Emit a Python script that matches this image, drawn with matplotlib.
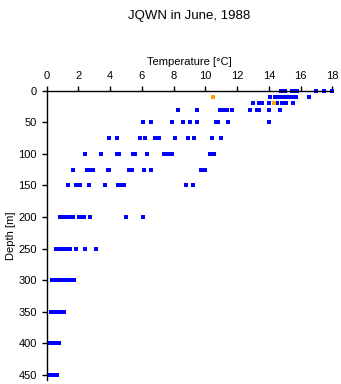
import matplotlib
matplotlib.use('Agg')
import matplotlib.pyplot as plt

plt.rcParams['font.family'] = ['Liberation Sans', 'DejaVu Sans']

# temperature readings [C] per sampling depth [m]
profiles = {
    0: [14.75, 14.9, 15.05, 15.45, 15.6, 15.75, 17.0, 17.5, 18.0],
    10: [14.1, 14.4, 14.6, 14.7, 14.9, 15.1, 15.3, 15.5, 15.7, 16.5],
    20: [13.0, 13.4, 13.6, 14.0, 14.5, 14.8, 15.1, 15.5],
    30: [8.3, 9.5, 10.9, 11.2, 11.35, 11.7, 12.8, 13.25, 13.4, 14.0, 14.7],
    50: [6.1, 6.55, 7.9, 8.6, 9.05, 9.5, 10.65, 10.8, 11.45, 14.0],
    75: [3.95, 4.45, 5.85, 6.2, 6.85, 7.1, 8.1, 8.9, 9.3, 10.4, 11.0],
    100: [2.4, 3.45, 4.45, 4.55, 5.45, 5.55, 6.35, 7.4, 7.55, 7.7, 7.9, 10.3, 10.55],
    125: [1.65, 2.55, 2.7, 2.9, 3.85, 3.95, 5.2, 5.3, 5.4, 6.15, 6.55, 9.75, 9.95],
    150: [1.35, 1.85, 2.0, 2.1, 2.65, 3.65, 4.5, 4.6, 4.75, 4.9, 8.8, 9.2],
    200: [0.85, 1.1, 1.2, 1.3, 1.45, 1.65, 2.05, 2.2, 2.35, 2.75, 5.0, 6.05],
    250: [0.6, 0.68, 0.77, 0.85, 0.95, 1.05, 1.15, 1.25, 1.35, 1.45, 1.85, 2.4, 3.1],
    300: [0.35, 0.45, 0.55, 0.65, 0.75, 0.85, 0.95, 1.05, 1.15, 1.25, 1.4, 1.55, 1.7],
    350: [0.27, 0.37, 0.47, 0.57, 0.67, 0.77, 0.87, 0.97, 1.1],
    400: [0.17, 0.27, 0.37, 0.47, 0.57, 0.67, 0.75],
    450: [0.17, 0.27, 0.37, 0.47, 0.57, 0.63],
}
# highlighted station
hl_temp = [10.5, 14.3]
hl_depth = [10, 20]

x_ticks = [0, 2, 4, 6, 8, 10, 12, 14, 16, 18]
y_ticks = [0, 50, 100, 150, 200, 250, 300, 350, 400, 450]

fig = plt.figure(figsize=(3.41, 3.84), dpi=100)
ax = fig.add_axes([0.137, 0.010, 0.8375, 0.754])

for d, temps in profiles.items():
    ax.plot(temps, [d] * len(temps), linestyle='none', marker='s', markersize=2.5,
            color='#0000ff', markeredgewidth=0, clip_on=False)
ax.plot(hl_temp, hl_depth, linestyle='none', marker='s', markersize=2.8,
        color='#ffa500', markeredgewidth=0, clip_on=False, zorder=3)

ax.set_xlim(0, 18)
ax.set_ylim(458, 0)
ax.xaxis.tick_top()
ax.xaxis.set_label_position('top')
ax.set_xticks(x_ticks)
ax.set_yticks(y_ticks)
ax.tick_params(direction='out', length=3.6, width=1, labelsize=8)
ax.tick_params(axis='y', pad=3.5)
ax.tick_params(axis='x', pad=3)
ax.set_xlabel('Temperature [°C]', fontsize=8, labelpad=5)
ax.set_ylabel('Depth [m]', fontsize=8, labelpad=2)
for s in ['right', 'bottom']:
    ax.spines[s].set_visible(False)
for s in ['left', 'top']:
    ax.spines[s].set_linewidth(1)

# title centred over the plot area
fig.text(0.556, 0.975, 'JQWN in June, 1988', fontsize=9.5, ha='center', va='top')

plt.savefig('out.png', dpi=100)
